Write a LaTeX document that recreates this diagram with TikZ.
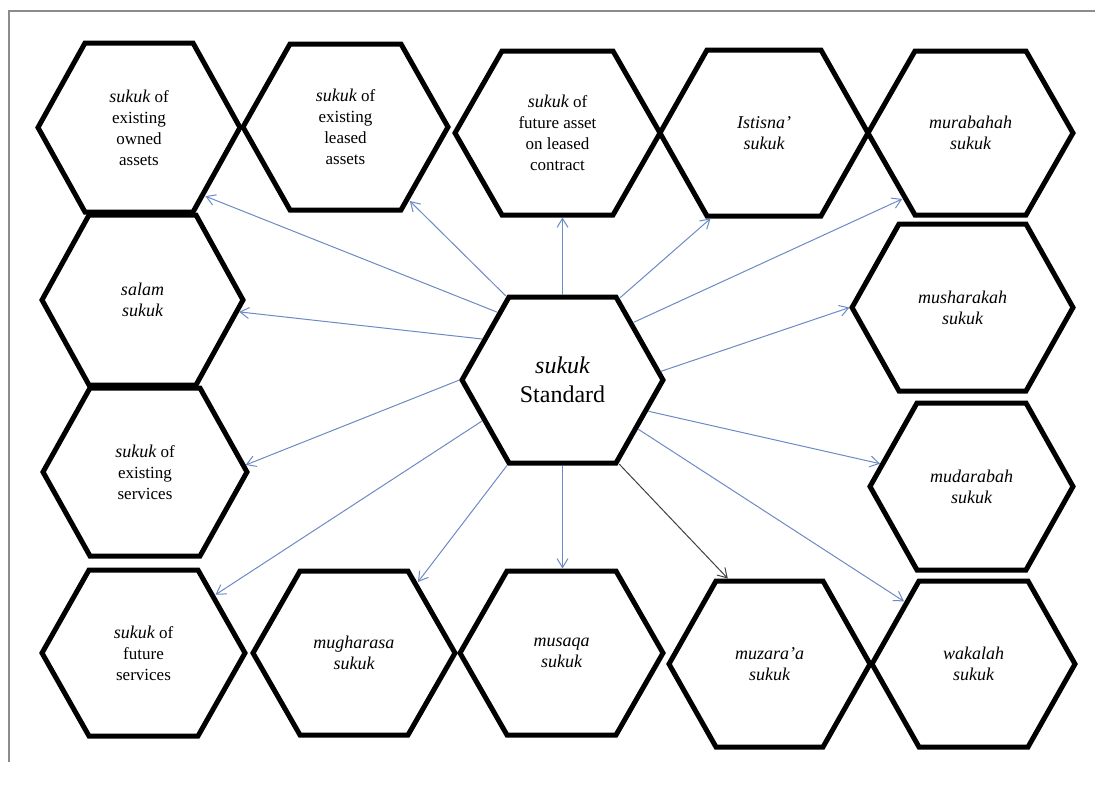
\documentclass[tikz,border=0pt]{standalone}
\usepackage{fontspec}
\setmainfont{Liberation Serif}
\usetikzlibrary{arrows.meta,calc}
\definecolor{arrowblue}{RGB}{108,138,196}
\definecolor{framegray}{RGB}{140,140,140}
\makeatletter
\newdimen\hexchamfer \hexchamfer=47pt
\pgfdeclareshape{flathex}{%
  \inheritsavedanchors[from=rectangle]%
  \inheritanchor[from=rectangle]{center}%
  \inheritanchor[from=rectangle]{north}%
  \inheritanchor[from=rectangle]{south}%
  \inheritanchor[from=rectangle]{east}%
  \inheritanchor[from=rectangle]{west}%
  \inheritanchor[from=rectangle]{text}%
  \inheritanchor[from=rectangle]{base}%
  \backgroundpath{%
    \pgfmathsetlength\pgf@xc{\pgfkeysvalueof{/pgf/outer xsep}}%
    \pgfmathsetlength\pgf@yc{\pgfkeysvalueof{/pgf/outer ysep}}%
    \southwest \advance\pgf@x by\pgf@xc \advance\pgf@y by\pgf@yc
    \edef\fh@xa{\the\pgf@x}\edef\fh@ya{\the\pgf@y}%
    \northeast \advance\pgf@x by-\pgf@xc \advance\pgf@y by-\pgf@yc
    \edef\fh@xb{\the\pgf@x}\edef\fh@yb{\the\pgf@y}%
    \pgfmathsetmacro\fh@ym{(\fh@ya+\fh@yb)/2}%
    \pgfpathmoveto{\pgfpoint{\fh@xa}{\fh@ym pt}}%
    \pgfpathlineto{\pgfpoint{\fh@xa+\hexchamfer}{\fh@yb}}%
    \pgfpathlineto{\pgfpoint{\fh@xb-\hexchamfer}{\fh@yb}}%
    \pgfpathlineto{\pgfpoint{\fh@xb}{\fh@ym pt}}%
    \pgfpathlineto{\pgfpoint{\fh@xb-\hexchamfer}{\fh@ya}}%
    \pgfpathlineto{\pgfpoint{\fh@xa+\hexchamfer}{\fh@ya}}%
    \pgfpathclose
  }%
  \anchorborder{%
    \edef\fh@dx{\the\pgf@x}\edef\fh@dy{\the\pgf@y}%
    \southwest \edef\fh@xa{\the\pgf@x}\edef\fh@ya{\the\pgf@y}%
    \northeast \edef\fh@xb{\the\pgf@x}\edef\fh@yb{\the\pgf@y}%
    \pgfmathsetmacro\fh@a{(\fh@xb-\fh@xa)/2}%
    \pgfmathsetmacro\fh@b{(\fh@yb-\fh@ya)/2}%
    \pgfmathsetmacro\fh@c{\fh@a-\hexchamfer}%
    \pgfmathsetmacro\fh@n{max(veclen(\fh@dx,\fh@dy),0.001)}%
    \pgfmathsetmacro\fh@ux{\fh@dx/\fh@n}%
    \pgfmathsetmacro\fh@uy{\fh@dy/\fh@n}%
    \pgfmathsetmacro\fh@t{min(\fh@b/max(abs(\fh@uy),0.01), \fh@a/(abs(\fh@ux)+(\fh@a-\fh@c)*abs(\fh@uy)/\fh@b))}%
    \pgfmathsetmacro\fh@px{\fh@t*\fh@ux+(\fh@xa+\fh@xb)/2}%
    \pgfmathsetmacro\fh@py{\fh@t*\fh@uy+(\fh@ya+\fh@yb)/2}%
    \pgf@x=\fh@px pt\relax
    \pgf@y=\fh@py pt\relax
  }%
}
\makeatother
\tikzset{
  hexa/.style={shape=flathex, draw=black, line width=5pt,
    minimum width=204pt, minimum height=166pt, inner sep=0pt, outer sep=2.5pt,
    align=center, font=\fontsize{17}{21}\selectfont},
  mainhex/.style={hexa, minimum width=201pt, font=\fontsize{24}{29}\selectfont},
  arr/.style={draw=arrowblue, line width=1pt, -{Straight Barb[length=9pt,width=11pt]}},
  darkarr/.style={arr, draw=black!75},
  frameline/.style={draw=framegray, line width=1.5pt}
}
\newcommand{\sk}[1]{{\fontsize{18}{21}\selectfont\itshape #1}}
\begin{document}
\begin{tikzpicture}[x=1pt,y=-1pt]
\useasboundingbox (0,0) rectangle (1095,785);
\draw[frameline] (1095,11) -- (9,11) -- (9,762);
% hexagons
\node[hexa, minimum height=169pt, minimum width=202pt] (h1) at (139,127.5) {\sk{sukuk} of\\existing\\owned\\assets};
\node[hexa, minimum width=205pt] (h2) at (345.5,127) {\sk{sukuk} of\\existing\\leased\\assets};
\node[hexa, minimum width=205pt, minimum height=164pt] (h3) at (557.5,133) {\sk{sukuk} of\\future asset\\on leased\\contract};
\node[hexa, minimum width=208pt] (h4) at (764,133) {\sk{Istisna'}\\\sk{sukuk}};
\node[hexa, minimum width=205pt, minimum height=164pt] (h5) at (970.5,133) {\sk{murabahah}\\\sk{sukuk}};
\node[hexa, minimum width=201pt, minimum height=170pt] (h6) at (142.5,300) {\sk{salam}\\\sk{sukuk}};
\node[hexa, minimum height=168pt] (h7) at (145,472) {\sk{sukuk} of\\existing\\services};
\node[hexa, minimum width=203pt] (h8) at (143.5,653) {\sk{sukuk} of\\future\\services};
\node[hexa, minimum width=202pt, minimum height=164pt] (h9) at (354,653) {\sk{mugharasa}\\\sk{sukuk}};
\node[hexa, minimum width=203pt, minimum height=164pt] (h10) at (561.5,653) {\sk{musaqa}\\\sk{sukuk}};
\node[hexa, minimum width=201pt] (h11) at (769.5,664) {\sk{muzara'a}\\\sk{sukuk}};
\node[hexa, minimum width=203pt] (h12) at (973.5,664) {\sk{wakalah}\\\sk{sukuk}};
\node[hexa, minimum width=221pt, minimum height=167pt] (h13) at (962.5,307.5) {\sk{musharakah}\\\sk{sukuk}};
\node[hexa, minimum width=203pt, minimum height=167pt] (h14) at (971.5,486.5) {\sk{mudarabah}\\\sk{sukuk}};
\node[mainhex] (c) at (562.5,380) {{\itshape sukuk}\\Standard};
% connectors
\draw[arr] (c.134) -- (h1.-46);
\draw[arr] (c.124) -- (h2.-49);
\draw[arr] (c.north) -- (c.north |- h3.south);
\draw[arr] (c.55) -- (h4.-122);
\draw[arr] (c.39) -- (h5.-136);
\draw[arr] (c.5) -- (h13.180);
\draw[arr] (c.-20) -- (h14.166);
\draw[arr] (c.-33) -- (h12.138);
\draw[darkarr] (c.-56) -- (h11.116);
\draw[arr] (c.south) -- (c.south |- h10.north);
\draw[arr] (c.-123) -- (h9.48);
\draw[arr] (c.-153) -- (h8.39);
\draw[arr] (c.180) -- (h7.4);
\draw[arr] (c.153) -- (h6.-7);
\end{tikzpicture}
\end{document}
